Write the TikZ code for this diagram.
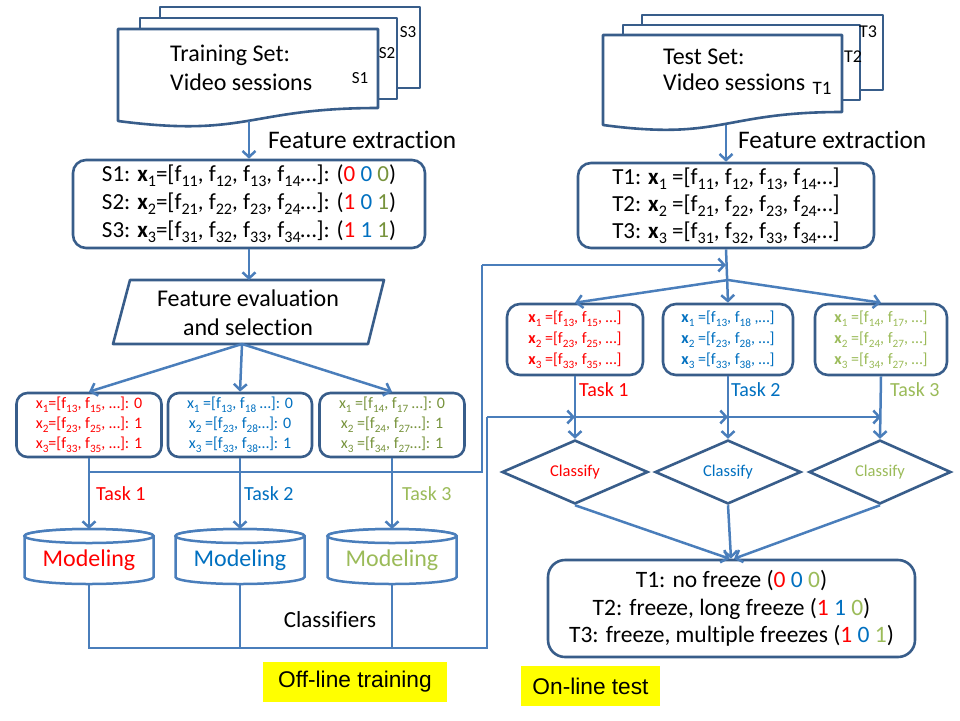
\documentclass[tikz,border=0pt]{standalone}
\usepackage{graphicx}
\usepackage{fontspec}
\setmainfont{Carlito}[Ligatures=NoCommon]
\newfontfamily\arialf{Liberation Sans}
\usetikzlibrary{arrows.meta,shapes.geometric}
\definecolor{cred}{HTML}{FF0000}
\definecolor{cblue}{HTML}{0070C0}
\definecolor{cdgreen}{HTML}{77933C}
\definecolor{clgreen}{HTML}{9BBB59}
\definecolor{lc}{HTML}{4A7EBB}
\definecolor{bc}{HTML}{385D8A}
\definecolor{cyel}{HTML}{FFFF00}
\newcommand\dn[1]{\raisebox{-0.22em}{\scalebox{0.7}{#1}}}
\newcommand\fs[2]{\fontsize{#1}{#2}\selectfont}
\newcommand\cyl[3]{%
  \path[cylsty] (#2-64.5,536) -- (#2-64.5,577) arc[start angle=180,end angle=360,x radius=64.5pt,y radius=7pt]
     -- (#2+64.5,536) arc[start angle=0,end angle=180,x radius=64.5pt,y radius=7pt] -- cycle;
  \draw[cylsty] (#2,536) ellipse [x radius=64.5pt, y radius=7pt];
  \node[text=#3, font=\fs{24}{29}] (#1) at (#2,560) {Modeling};
  \coordinate (#1t) at (#2,529);
  \coordinate (#1b) at (#2,584);}
\begin{document}
\begin{tikzpicture}[x=1pt,y=-1pt,
  conn/.style={draw=lc, line width=2.5pt},
  arr/.style={conn, -{Straight Barb[length=6pt,width=13pt]}},
  bx/.style={draw=bc, line width=2.6pt, fill=white, rounded corners=13pt, inner sep=0pt, align=center},
  shp/.style={draw=bc, line width=2.6pt, fill=white, line join=round},
  cylsty/.style={draw=lc, line width=2.5pt, fill=white},
  dia/.style={diamond, draw=bc, line width=2.6pt, fill=white, inner sep=0pt, minimum width=146pt, minimum height=63pt, font=\fs{16.5}{19}},
  lab/.style={anchor=west, inner sep=0pt},
  yl/.style={fill=cyel, inner sep=0pt, font=\arialf\fs{22.7}{27}, minimum height=40pt}
]
\useasboundingbox (0,0) rectangle (960,720);

% ---------- training documents ----------
\path[shp] (160,7) rectangle (420,88);
\path[shp] (140,18) rectangle (397,99);
\path[shp] (118,29) -- (378,29) -- (378,108) .. controls (248,108) and (248,138) .. (118,121) -- cycle;
\node[font=\fs{17}{20}, inner sep=0pt] (s3) at (408,32) {S3};
\node[font=\fs{17}{20}, inner sep=0pt] (s2) at (387,53) {S2};
\node[font=\fs{17}{20}, inner sep=0pt] (s1) at (360,78) {S1};
\node[lab, align=left, font=\fs{24}{29}] (trtxt) at (170,68) {Training Set:\\Video sessions};
\coordinate (doc1b) at (249,121);

% ---------- test documents ----------
\path[shp] (642,15) rectangle (883,90);
\path[shp] (623,25) rectangle (860,100);
\path[shp] (603,35) -- (842,35) -- (842,112) .. controls (722,112) and (722,141) .. (603,125) -- cycle;
\node[font=\fs{18}{20}, inner sep=0pt] (t3l) at (868,32) {T3};
\node[font=\fs{18}{20}, inner sep=0pt] (t2l) at (853,57) {T2};
\node[font=\fs{19}{20}, inner sep=0pt] (t1l) at (822,88) {T1};
\node[lab, align=left, font=\fs{24}{26}] (tetxt) at (663,70) {Test Set:\\Video sessions};
\coordinate (doc2b) at (726,125);

% ---------- feature boxes ----------
\node[bx, minimum width=352pt, minimum height=88pt, font=\fs{23}{28}] (fb1) at (249,204)
 {S1: \textbf{x}\dn{1}=[f\dn{11}, f\dn{12}, f\dn{13}, f\dn{14}…]: (\textcolor{cred}{0} \textcolor{cblue}{0} \textcolor{cdgreen}{0})\\
  S2: \textbf{x}\dn{2}=[f\dn{21}, f\dn{22}, f\dn{23}, f\dn{24}…]: (\textcolor{cred}{1} \textcolor{cblue}{0} \textcolor{cdgreen}{1})\\
  S3: \textbf{x}\dn{3}=[f\dn{31}, f\dn{32}, f\dn{33}, f\dn{34}…]: (\textcolor{cred}{1} \textcolor{cblue}{1} \textcolor{cdgreen}{1})};
\node[bx, minimum width=296pt, minimum height=85pt, font=\fs{23}{27}] (fb2) at (726,205.5)
 {T1: \textbf{x}\dn{1} =[f\dn{11}, f\dn{12}, f\dn{13}, f\dn{14}…]\\
  T2: \textbf{x}\dn{2} =[f\dn{21}, f\dn{22}, f\dn{23}, f\dn{24}…]\\
  T3: \textbf{x}\dn{3} =[f\dn{31}, f\dn{32}, f\dn{33}, f\dn{34}…]};
\node[lab, font=\fs{25.3}{29}] (fe1) at (268,140) {Feature extraction};
\node[lab, font=\fs{25.3}{29}] (fe2) at (738,140) {Feature extraction};
\draw[arr] (doc1b) -- (fb1.north);
\draw[arr] (doc2b) -- (fb2.north);

% ---------- feature evaluation ----------
\path[shp] (130,280) -- (384,280) -- (368,344) -- (113,344) -- cycle;
\node[align=center, font=\fs{24}{29}] (fes) at (248,313) {Feature evaluation\\and selection};
\coordinate (parat) at (249,280);
\coordinate (parab) at (242,344);
\draw[arr] (fb1.south) -- (parat);

% ---------- training task boxes ----------
\node[bx, rounded corners=11pt, minimum width=145pt, minimum height=64pt, font=\fs{16}{20}, text=cred] (tr1) at (89,425)
 {x\dn{1}=[f\dn{13}, f\dn{15}, …]: 0\\x\dn{2}=[f\dn{23}, f\dn{25}, …]: 1\\x\dn{3}=[f\dn{33}, f\dn{35}, …]: 1};
\node[bx, rounded corners=11pt, minimum width=144pt, minimum height=64pt, font=\fs{16}{20}, text=cblue] (tr2) at (240,425)
 {x\dn{1} =[f\dn{13}, f\dn{18} …]: 0\\x\dn{2} =[f\dn{23}, f\dn{28}…]: 0\\x\dn{3} =[f\dn{33}, f\dn{38}…]: 1};
\node[bx, rounded corners=11pt, minimum width=145pt, minimum height=64pt, font=\fs{16}{20}, text=cdgreen] (tr3) at (392,425)
 {x\dn{1} =[f\dn{14}, f\dn{17} …]: 0\\x\dn{2} =[f\dn{24}, f\dn{27}…]: 1\\x\dn{3} =[f\dn{34}, f\dn{27}…]: 1};
\draw[arr] (parab) -- (tr1.north);
\draw[arr] (parab) -- (tr2.north);
\draw[arr] (parab) -- (tr3.north);

% ---------- modeling ----------
\cyl{mod1}{89}{cred}
\cyl{mod2}{240}{cblue}
\cyl{mod3}{392}{clgreen}
\draw[arr] (tr1.south) -- (mod1t);
\draw[arr] (tr2.south) -- (mod2t);
\draw[arr] (tr3.south) -- (mod3t);
\node[lab, font=\fs{20}{24}, text=cred] (tk1) at (96,494) {Task 1};
\node[lab, font=\fs{20}{24}, text=cblue] (tk2) at (244,494) {Task 2};
\node[lab, font=\fs{20}{24}, text=clgreen] (tk3) at (402,494) {Task 3};

% selected features sent to test side
\coordinate (h1) at (89,472);
\coordinate (c1) at (482,472);
\coordinate (c2) at (482,265);
\coordinate (jn) at (726,265);
\draw[conn] (h1) -- (c1) -- (c2);
\draw[arr] (c2) -- (jn);

% classifiers line
\coordinate (m1) at (89,648);
\coordinate (m2) at (240,648);
\coordinate (m3) at (392,648);
\coordinate (c3) at (487,648);
\coordinate (c4) at (487,417);
\coordinate (k1) at (575,417);
\coordinate (k2) at (728,417);
\coordinate (k3) at (881,417);
\draw[conn] (mod1b) -- (m1) -- (c3) -- (c4);
\draw[conn] (mod2b) -- (m2);
\draw[conn] (mod3b) -- (m3);
\draw[arr] (c4) -- (k1);
\draw[arr] (k1) -- (k2);
\draw[arr] (k2) -- (k3);
\node[font=\fs{23}{27}, inner sep=0pt] (cls) at (330,620) {Classifiers};

% ---------- test task boxes ----------
\node[bx, rounded corners=13pt, minimum width=136pt, minimum height=71pt, font=\fs{16}{21}, text=cred] (te1) at (575,339.5)
 {\textbf{x}\dn{1} =[f\dn{13}, f\dn{15}, …]\\\textbf{x}\dn{2} =[f\dn{23}, f\dn{25}, …]\\\textbf{x}\dn{3} =[f\dn{33}, f\dn{35}, …]};
\node[bx, rounded corners=13pt, minimum width=130pt, minimum height=71pt, font=\fs{16}{21}, text=cblue] (te2) at (728,339.5)
 {\textbf{x}\dn{1} =[f\dn{13}, f\dn{18} ,…]\\\textbf{x}\dn{2} =[f\dn{23}, f\dn{28}, …]\\\textbf{x}\dn{3} =[f\dn{33}, f\dn{38}, …]};
\node[bx, rounded corners=13pt, minimum width=132pt, minimum height=71pt, font=\fs{16}{21}, text=clgreen] (te3) at (881,339.5)
 {\textbf{x}\dn{1} =[f\dn{14}, f\dn{17}, …]\\\textbf{x}\dn{2} =[f\dn{24}, f\dn{27}, …]\\\textbf{x}\dn{3} =[f\dn{34}, f\dn{27}, …]};
\coordinate (split) at (728,280);
\draw[arr] (fb2.south) -- (te2.north);
\draw[arr] (split) -- (te1.north);
\draw[arr] (split) -- (te3.north);
\node[lab, font=\fs{20}{24}, text=cred] (tk4) at (579,390) {Task 1};
\node[lab, font=\fs{20}{24}, text=cblue] (tk5) at (731,390) {Task 2};
\node[lab, font=\fs{20}{24}, text=clgreen] (tk6) at (890,390) {Task 3};

% ---------- classify ----------
\node[dia, text=cred] (cl1) at (575,472) {Classify};
\node[dia, text=cblue] (cl2) at (728,472) {Classify};
\node[dia, text=clgreen, minimum width=142pt] (cl3) at (880,472) {Classify};
\draw[arr] (te1.south) -- (cl1.north);
\draw[arr] (te2.south) -- (cl2.north);
\draw[arr] (te3.south) -- (cl3.north);

% ---------- result ----------
\node[bx, rounded corners=17pt, minimum width=367pt, minimum height=97pt, font=\fs{23.5}{27.5}] (res) at (731.5,608.5)
 {T1: no freeze (\textcolor{cred}{0} \textcolor{cblue}{0} \textcolor{clgreen}{0})\\
  T2: freeze, long freeze (\textcolor{cred}{1} \textcolor{cblue}{1} \textcolor{clgreen}{0})\\
  T3: freeze, multiple freezes (\textcolor{cred}{1} \textcolor{cblue}{0} \textcolor{clgreen}{1})};
\draw[arr] (cl1.south) -- ([xshift=-2pt]res.north);
\draw[arr] (cl2.south) -- ([xshift=-0.5pt]res.north);
\draw[arr] (cl3.south) -- ([xshift=2.5pt]res.north);

% ---------- labels ----------
\node[yl, minimum width=184pt] (off) at (355,682) {Off-line training};
\node[yl, minimum width=139pt] (on) at (590.5,686) {On-line test};
\end{tikzpicture}
\end{document}
